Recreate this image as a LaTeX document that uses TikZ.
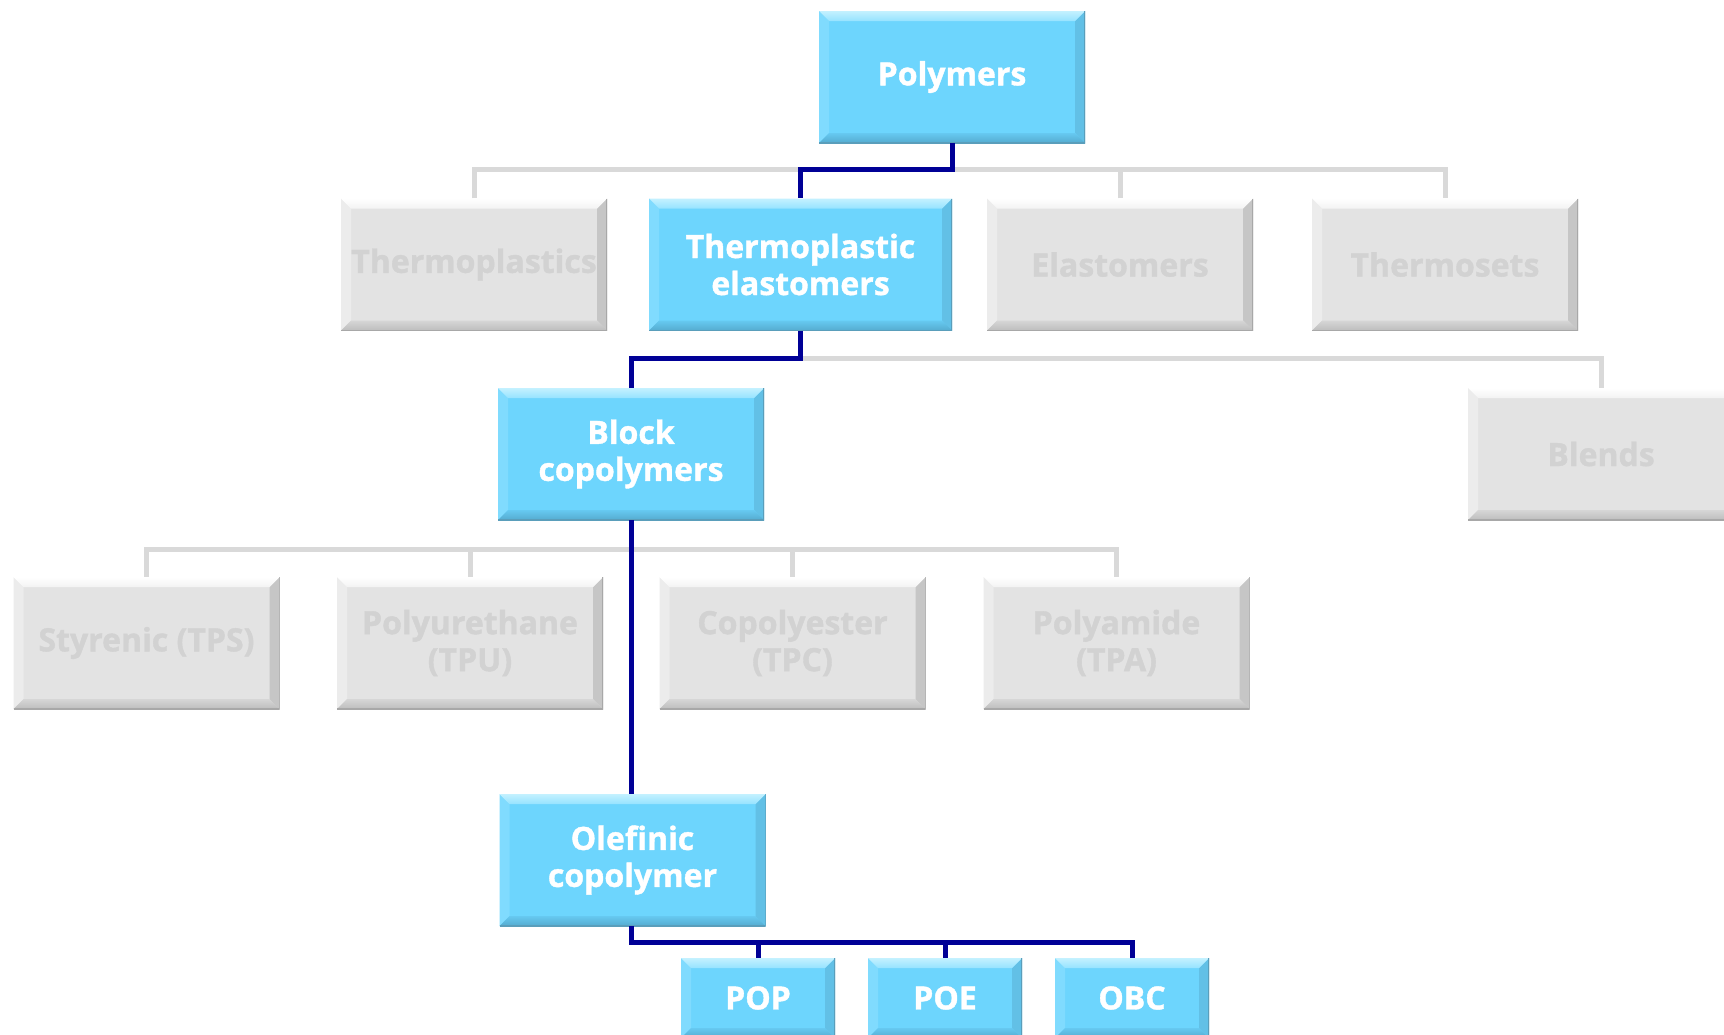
\documentclass[tikz,border=0pt]{standalone}
\usepackage{fontspec}
\setmainfont{Open Sans}[BoldFeatures={FakeBold=1.2}]
\usetikzlibrary{calc}
\definecolor{bfill}{HTML}{6DD5FD}
\definecolor{btopA}{HTML}{C4F1FF}
\definecolor{btopB}{HTML}{96E3FF}
\definecolor{bleft}{HTML}{80DBFE}
\definecolor{bright}{HTML}{62C0E6}
\definecolor{bbotA}{HTML}{66C9F1}
\definecolor{bbotB}{HTML}{55ABCF}
\definecolor{bedge}{HTML}{5A9EBB}
\definecolor{gfill}{HTML}{E3E3E3}
\definecolor{gtopA}{HTML}{FFFFFF}
\definecolor{gtopB}{HTML}{F3F3F3}
\definecolor{gleft}{HTML}{ECECEC}
\definecolor{gright}{HTML}{C6C6C6}
\definecolor{gbotA}{HTML}{D6D6D6}
\definecolor{gbotB}{HTML}{BDBDBD}
\definecolor{gedge}{HTML}{A8A8A8}
\definecolor{gtext}{HTML}{D2D2D2}
\definecolor{navy}{RGB}{0,0,150}
\definecolor{gline}{HTML}{D9D9D9}
\newcommand\mybevel[7]{%
  \coordinate (bnw) at (path picture bounding box.north west);
  \coordinate (bne) at (path picture bounding box.north east);
  \coordinate (bsw) at (path picture bounding box.south west);
  \coordinate (bse) at (path picture bounding box.south east);
  \fill[#3] (bnw) -- ($(bnw)+(10pt,-10pt)$) -- ($(bsw)+(10pt,10pt)$) -- (bsw) -- cycle;
  \fill[#4] (bne) -- ($(bne)+(-10pt,-10pt)$) -- ($(bse)+(-10pt,10pt)$) -- (bse) -- cycle;
  \shade[top color=#5, bottom color=#6] (bsw) -- ($(bsw)+(10pt,10pt)$) -- ($(bse)+(-10pt,10pt)$) -- (bse) -- cycle;
  \shade[top color=#1, bottom color=#2] (bnw) -- (bne) -- ($(bne)+(-10pt,-10pt)$) -- ($(bnw)+(10pt,-10pt)$) -- cycle;
  \draw[#7, line width=1.2pt] (bsw) -- (bse) -- (bne);
}
\tikzset{
  boxbase/.style={minimum width=266pt, minimum height=132pt, inner sep=0pt, align=center,
    font=\bfseries\fontsize{32}{37}\selectfont},
  bbox/.style={boxbase, fill=bfill, text=white,
    path picture={\mybevel{btopA}{btopB}{bleft}{bright}{bbotA}{bbotB}{bedge}}},
  gbox/.style={boxbase, fill=gfill, text=gtext,
    path picture={\mybevel{gtopA}{gtopB}{gleft}{gright}{gbotA}{gbotB}{gedge}}},
  sbox/.style={bbox, minimum width=154pt, minimum height=80pt},
  gconn/.style={draw=gline, line width=5pt},
  bconn/.style={draw=navy, line width=5pt},
}
\begin{document}
\begin{tikzpicture}[x=1pt, y=-1pt]
\useasboundingbox (0,0) rectangle (1724,1034);
\clip (0,0) rectangle (1724,1034);
\fill[white] (0,0) rectangle (1724,1034);
% bus levels
\coordinate (b1) at (0,169);
\coordinate (b2) at (0,358);
\coordinate (b3) at (0,549);
\coordinate (b4) at (0,942);
% nodes
\node[bbox] (poly) at (952,77) {Polymers};
\node[gbox] (tp) at (474,264.5) {Thermoplastics};
\node[bbox, minimum width=303pt] (tpe) at (800.5,264.5) {Thermoplastic\\elastomers};
\node[gbox] (el) at (1120,264.5) {Elastomers};
\node[gbox] (ts) at (1445,264.5) {Thermosets};
\node[bbox] (blk) at (631,454) {Block\\copolymers};
\node[gbox] (bl) at (1601,454) {Blends};
\node[gbox] (sty) at (146.5,643) {Styrenic (TPS)};
\node[gbox] (pu) at (470,643) {Polyurethane\\(TPU)};
\node[gbox] (cpe) at (792.5,643) {Copolyester\\(TPC)};
\node[gbox] (pa) at (1116.5,643) {Polyamide\\(TPA)};
\node[bbox] (ole) at (632.5,860) {Olefinic\\copolymer};
\node[sbox] (pop) at (758,998) {POP};
\node[sbox] (poe) at (945,998) {POE};
\node[sbox] (obc) at (1132,998) {OBC};
% gray connectors
\draw[gconn] (tp.north) -- (tp.north |- b1) -- (ts.north |- b1) -- (ts.north);
\draw[gconn] (el.north) -- (el.north |- b1);
\draw[gconn] (tpe.south) -- (tpe.south |- b2) -- (bl.north |- b2) -- (bl.north);
\draw[gconn] (sty.north) -- (sty.north |- b3) -- (pa.north |- b3) -- (pa.north);
\draw[gconn] (pu.north) -- (pu.north |- b3);
\draw[gconn] (cpe.north) -- (cpe.north |- b3);
% blue connectors
\draw[bconn] (poly.south) -- (poly.south |- b1) -| (tpe.north);
\draw[bconn] (tpe.south) -- (tpe.south |- b2) -| (blk.north);
\draw[bconn] (blk.south) -- (ole.north -| blk.south);
\draw[bconn] (ole.south -| blk.south) -- (blk.south |- b4) -- (obc.north |- b4) -- (obc.north);
\draw[bconn] (pop.north) -- (pop.north |- b4);
\draw[bconn] (poe.north) -- (poe.north |- b4);
\end{tikzpicture}
\end{document}
